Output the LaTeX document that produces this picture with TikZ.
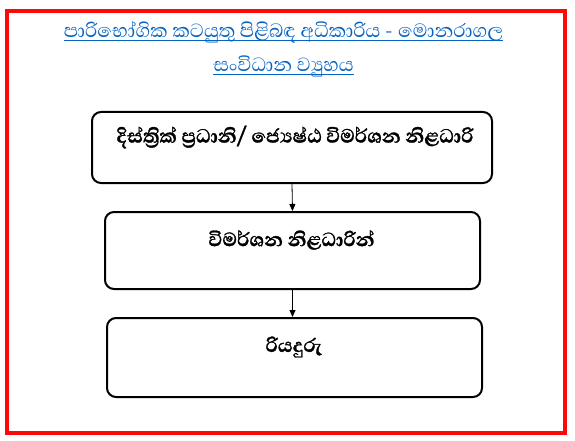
\documentclass[tikz,border=0pt]{standalone}
\usepackage{fontspec}
\newfontfamily\sinhalafont[Script=Sinhala]{Abhaya Libre}
\newfontfamily\sinhalaboldfont[Script=Sinhala, BoldFeatures={FakeBold=1.2}]{Abhaya Libre}
\usetikzlibrary{arrows.meta}
\definecolor{titleblue}{RGB}{5,99,193}
\definecolor{framered}{RGB}{250,10,10}
\tikzset{
  orgbox/.style={draw=black, line width=2pt, rounded corners=9pt, minimum width=#1, inner sep=0pt},
  boxtext/.style={font=\sinhalaboldfont\bfseries\fontsize{24.5}{28}\selectfont, inner sep=0pt, anchor=center},
  titletext/.style={font=\sinhalafont\fontsize{24.5}{28}\selectfont, text=titleblue, inner sep=0pt, anchor=base},
  link/.style={draw=black, line width=0.8pt, -{Triangle[length=7pt,width=6pt]}},
  uline/.style={draw=titleblue, line width=1pt}
}
\begin{document}
\begin{tikzpicture}[x=1pt,y=-1pt]
\useasboundingbox (0,0) rectangle (575,441);
\draw[framered, line width=4pt] (7,11) rectangle (565,433);
% title
\node[titletext] (t1) at (283.5,38) {පාරිභෝගික කටයුතු පිළිබඳ අධිකාරිය - මොනරාගල};
\node[titletext] (t2) at (283.5,72) {සංවිධාන ව්^^^^200dයුහය};
\coordinate (u1a) at ([yshift=-3pt]t1.base west);
\coordinate (u1b) at ([yshift=-3pt]t1.base east);
\coordinate (u2a) at ([yshift=-3pt]t2.base west);
\coordinate (u2b) at ([yshift=-3pt]t2.base east);
\draw[uline] (u1a) -- (u1b);
\draw[uline] (u2a) -- (u2b);
% boxes
\node[orgbox=400pt, minimum height=71pt] (b1) at (292,147.5) {};
\node[orgbox=375pt, minimum height=77pt] (b2) at (292.5,250.5) {};
\node[orgbox=375pt, minimum height=79pt] (b3) at (294.5,357.5) {};
\node[boxtext] (l1) at (295,137) {දිස්ත්^^^^200dරික් ප්^^^^200dරධානි/ ජ්^^^^200dයෙෂ්ඨ විමර්ශන නිළධාරි};
\node[boxtext] (l2) at (291.5,240) {විමර්ශන නිළධාරින්};
\node[boxtext] (l3) at (294,347) {රියදුරු};
\draw[link] (b1.south) -- (b2.north);
\draw[link] (b2.south) -- (b2.south |- b3.north);
\end{tikzpicture}
\end{document}
